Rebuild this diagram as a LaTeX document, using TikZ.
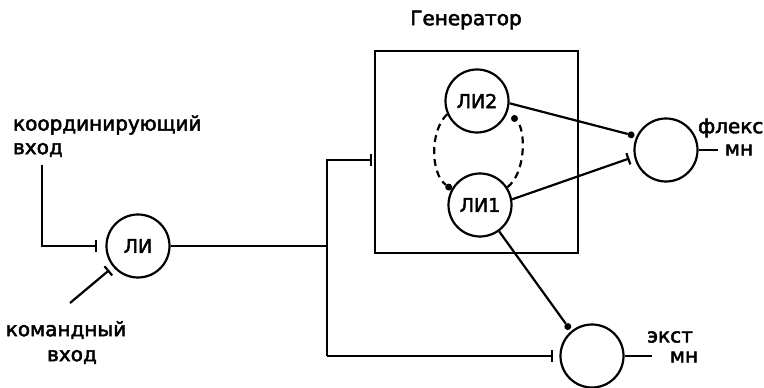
\documentclass[tikz,border=0pt]{standalone}
\usepackage{fontspec}
\setmainfont{DejaVu Sans}[FakeBold=2.5]
\usetikzlibrary{arrows.meta}
\begin{document}
\begin{tikzpicture}[x=1pt,y=1pt,line width=2.2pt,
  neuron/.style={circle,draw,line width=2.2pt,minimum size=63pt,inner sep=0pt,font=\fontsize{19}{21}\selectfont},
  lbl/.style={font=\fontsize{20}{22}\selectfont,inner sep=0pt},
  inhib/.style={-{Bar[width=12pt,line width=2.2pt]}},
  excit/.style={-{Circle[length=7pt,width=7pt,line width=0pt]}},
  dsh/.style={dash pattern=on 7pt off 5pt}]
\useasboundingbox (0,0) rectangle (764,388);
% generator box
\node[draw,line width=2.2pt,minimum width=203pt,minimum height=202pt,inner sep=0pt] (gen) at (476.5,236) {};
\node[lbl] (gtitle) at (466,368) {Генератор};
% neurons
\node[neuron] (li2) at (477,287) {ЛИ2};
\node[neuron] (li1) at (480,183) {ЛИ1};
\node[neuron] (flex) at (666,238) {};
\node[neuron] (ext) at (592,32) {};
\node[neuron] (li) at (138,142) {ЛИ};
% labels
\node[lbl,anchor=west] (coordl) at (12,263) {координирующий};
\node[lbl,anchor=west] (coordv) at (12,238) {вход};
\node[lbl] (coml) at (66,58) {командный};
\node[lbl] (comv) at (72,31) {вход};
\node[lbl,anchor=west] (flexl) at (697,260) {флекс};
\node[lbl] (flexm) at (739,238) {мн};
\node[lbl] (extl) at (670,51) {экст};
\node[lbl] (extm) at (684,31) {мн};
% inputs
\coordinate (cin) at (42,223);
\draw[inhib,shorten >=8pt] (cin) |- (li.west);
\coordinate (cmd) at (70,85);
\draw[inhib,shorten >=5pt] (cmd) -- (li);
% LI output
\coordinate (junc) at (327,142);
\coordinate (jbot) at (327,32);
\coordinate (gin) at (372,228);
\draw (li.east) -- (junc);
\draw[inhib] (jbot) |- (gin);
\draw[inhib,shorten >=6pt] (jbot) -- (ext.west);
% generator internal
\draw[dsh,excit] (li2.204) .. controls (430,258) and (430,215) .. (li1.151);
\draw[dsh,excit] (li1.33) .. controls (526,215) and (526,258) .. (512,272);
% outputs
\draw[excit,shorten >=2pt] (li2.356) -- (flex.155);
\draw[inhib,shorten >=5pt] (li1.10) -- (flex.192);
\draw[excit,shorten >=2pt] (li1.306) -- (ext.130);
\coordinate (fo) at (718,238);
\coordinate (eo) at (652,32);
\draw (flex.east) -- (fo);
\draw (ext.east) -- (eo);
\end{tikzpicture}
\end{document}
